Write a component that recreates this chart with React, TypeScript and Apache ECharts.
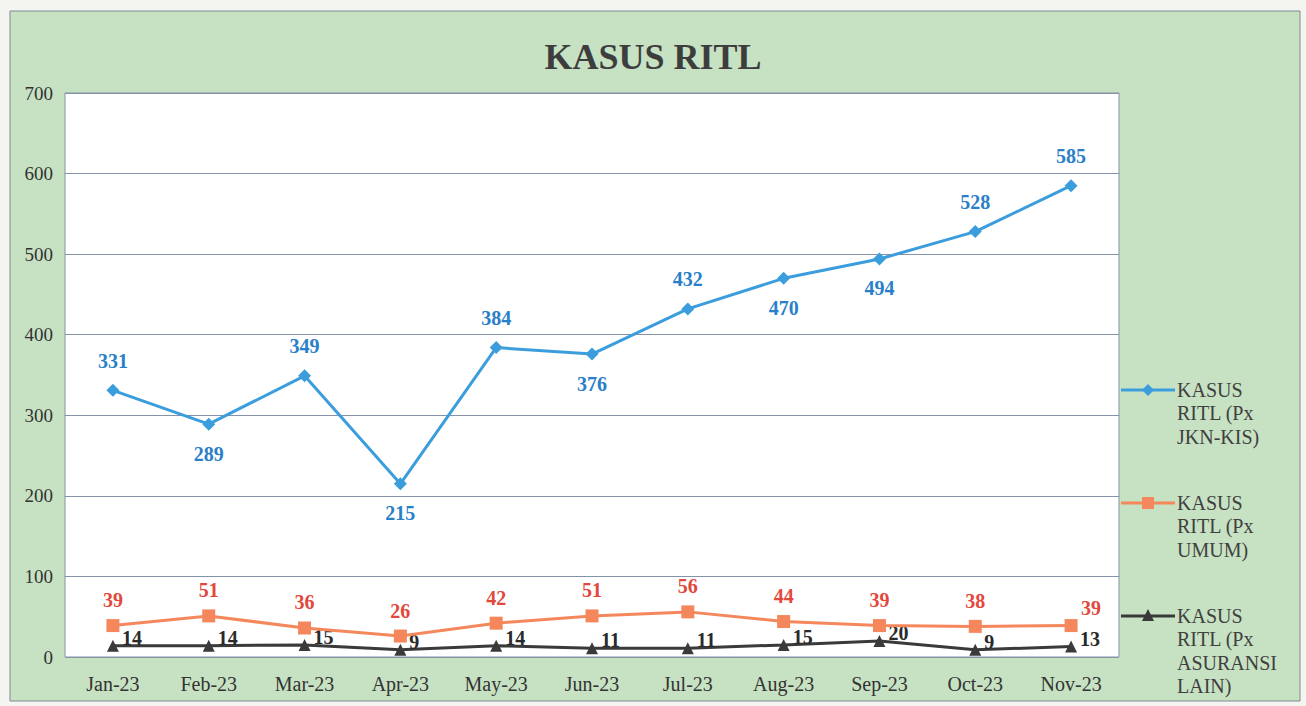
import React, { useEffect, useRef } from "react";
import * as echarts from "echarts";

const categories = ["Jan-23", "Feb-23", "Mar-23", "Apr-23", "May-23", "Jun-23", "Jul-23", "Aug-23", "Sep-23", "Oct-23", "Nov-23"];
const jknKis = [331, 289, 349, 215, 384, 376, 432, 470, 494, 528, 585];
const umum = [39, 51, 36, 26, 42, 51, 56, 44, 39, 38, 39];
const asuransiLain = [14, 14, 15, 9, 14, 11, 11, 15, 20, 9, 13];
const jknLabelPos = ["top", "bottom", "top", "bottom", "top", "bottom", "top", "bottom", "bottom", "top", "top"];
const seriesNames = ["KASUS RITL (Px JKN-KIS)", "KASUS RITL (Px UMUM)", "KASUS RITL (Px ASURANSI LAIN)"];
const legendLines = [
  "KASUS\nRITL (Px\nJKN-KIS)",
  "KASUS\nRITL (Px\nUMUM)",
  "KASUS\nRITL (Px\nASURANSI\nLAIN)",
];

const FONT = "'Liberation Serif', 'Times New Roman', serif";
const BLUE = "#3b9ddc";
const BLUE_LABEL = "#2a7fc8";
const ORANGE = "#f5875c";
const ORANGE_LABEL = "#e2483c";
const DARK = "#3a3a3a";

export default function App() {
  const ref = useRef<HTMLDivElement>(null);
  useEffect(() => {
    if (!ref.current) return;
    const chart = echarts.init(ref.current, null, { renderer: "svg" });

    const legendY = [390, 503, 616];
    const legendColors = [BLUE, ORANGE, DARK];
    const legendGraphics: any[] = [];
    legendY.forEach((y, i) => {
      legendGraphics.push({
        type: "line",
        shape: { x1: 1121, y1: y, x2: 1175, y2: y },
        style: { stroke: legendColors[i], lineWidth: 3 },
        z: 10,
      });
      if (i === 0) {
        legendGraphics.push({
          type: "polygon",
          shape: { points: [[1148, y - 6], [1154, y], [1148, y + 6], [1142, y]] },
          style: { fill: BLUE },
          z: 11,
        });
      } else if (i === 1) {
        legendGraphics.push({
          type: "rect",
          shape: { x: 1142, y: y - 6, width: 12, height: 12 },
          style: { fill: ORANGE },
          z: 11,
        });
      } else {
        legendGraphics.push({
          type: "polygon",
          shape: { points: [[1148, y - 7], [1154, y + 5], [1142, y + 5]] },
          style: { fill: DARK },
          z: 11,
        });
      }
      legendGraphics.push({
        type: "text",
        x: 1177,
        y: y - 12,
        style: {
          text: legendLines[i],
          font: `20px ${FONT}`,
          fill: "#404040",
          lineHeight: 23.5,
          textVerticalAlign: "top",
        },
        z: 11,
      });
    });

    const labelFont = {
      fontFamily: FONT,
      fontWeight: "bold" as const,
      fontSize: 20,
    };

    chart.setOption({
      animation: false,
      backgroundColor: "#f4f5f1",
      title: {
        text: "KASUS RITL",
        left: "center",
        top: 34,
        textStyle: { fontFamily: FONT, fontWeight: "bold", fontSize: 36, color: "#3d3d3d" },
      },
      graphic: [
        {
          type: "rect",
          shape: { x: 10, y: 11, width: 1290, height: 690 },
          style: { fill: "#c7e2c3", stroke: "#7f8a96", lineWidth: 1 },
          z: -10,
          silent: true,
        },
        ...legendGraphics,
      ],
      grid: {
        left: 65,
        right: 187,
        top: 93,
        bottom: 49,
        show: true,
        backgroundColor: "#ffffff",
        borderColor: "#8493a8",
        borderWidth: 1,
      },
      xAxis: {
        type: "category",
        data: categories,
        boundaryGap: true,
        axisLine: { show: false },
        axisTick: { show: false },
        axisLabel: { fontFamily: FONT, fontSize: 20, color: "#333", margin: 17 },
      },
      yAxis: {
        type: "value",
        min: 0,
        max: 700,
        interval: 100,
        axisLine: { show: false },
        axisTick: { show: false },
        axisLabel: { fontFamily: FONT, fontSize: 19, color: "#333", margin: 12 },
        splitLine: { lineStyle: { color: "#8493a8", width: 1 } },
      },
      series: [
        {
          name: seriesNames[0],
          type: "line",
          data: jknKis.map((v, i) => ({
            value: v,
            label: { position: jknLabelPos[i] },
          })),
          symbol: "diamond",
          symbolSize: 13,
          lineStyle: { color: BLUE, width: 3 },
          itemStyle: { color: BLUE },
          label: { show: true, distance: 13, color: BLUE_LABEL, ...labelFont },
          z: 5,
        },
        {
          name: seriesNames[1],
          type: "line",
          data: umum.map((v, i) => ({
            value: v,
            label: i === umum.length - 1 ? { position: "top", offset: [20, 8] } : {},
          })),
          symbol: "rect",
          symbolSize: 13,
          lineStyle: { color: ORANGE, width: 3 },
          itemStyle: { color: ORANGE },
          label: { show: true, position: "top", distance: 9, color: ORANGE_LABEL, ...labelFont },
          z: 4,
        },
        {
          name: seriesNames[2],
          type: "line",
          data: asuransiLain,
          symbol: "triangle",
          symbolSize: 12,
          lineStyle: { color: DARK, width: 3 },
          itemStyle: { color: DARK },
          label: { show: true, position: "right", distance: 3, offset: [0, -8], color: "#2a2a2a", ...labelFont },
          z: 3,
        },
      ],
    });
    return () => chart.dispose();
  }, []);
  return <div ref={ref} style={{ position: "fixed", left: 0, top: 0, width: 1306, height: 706 }} />;
}
